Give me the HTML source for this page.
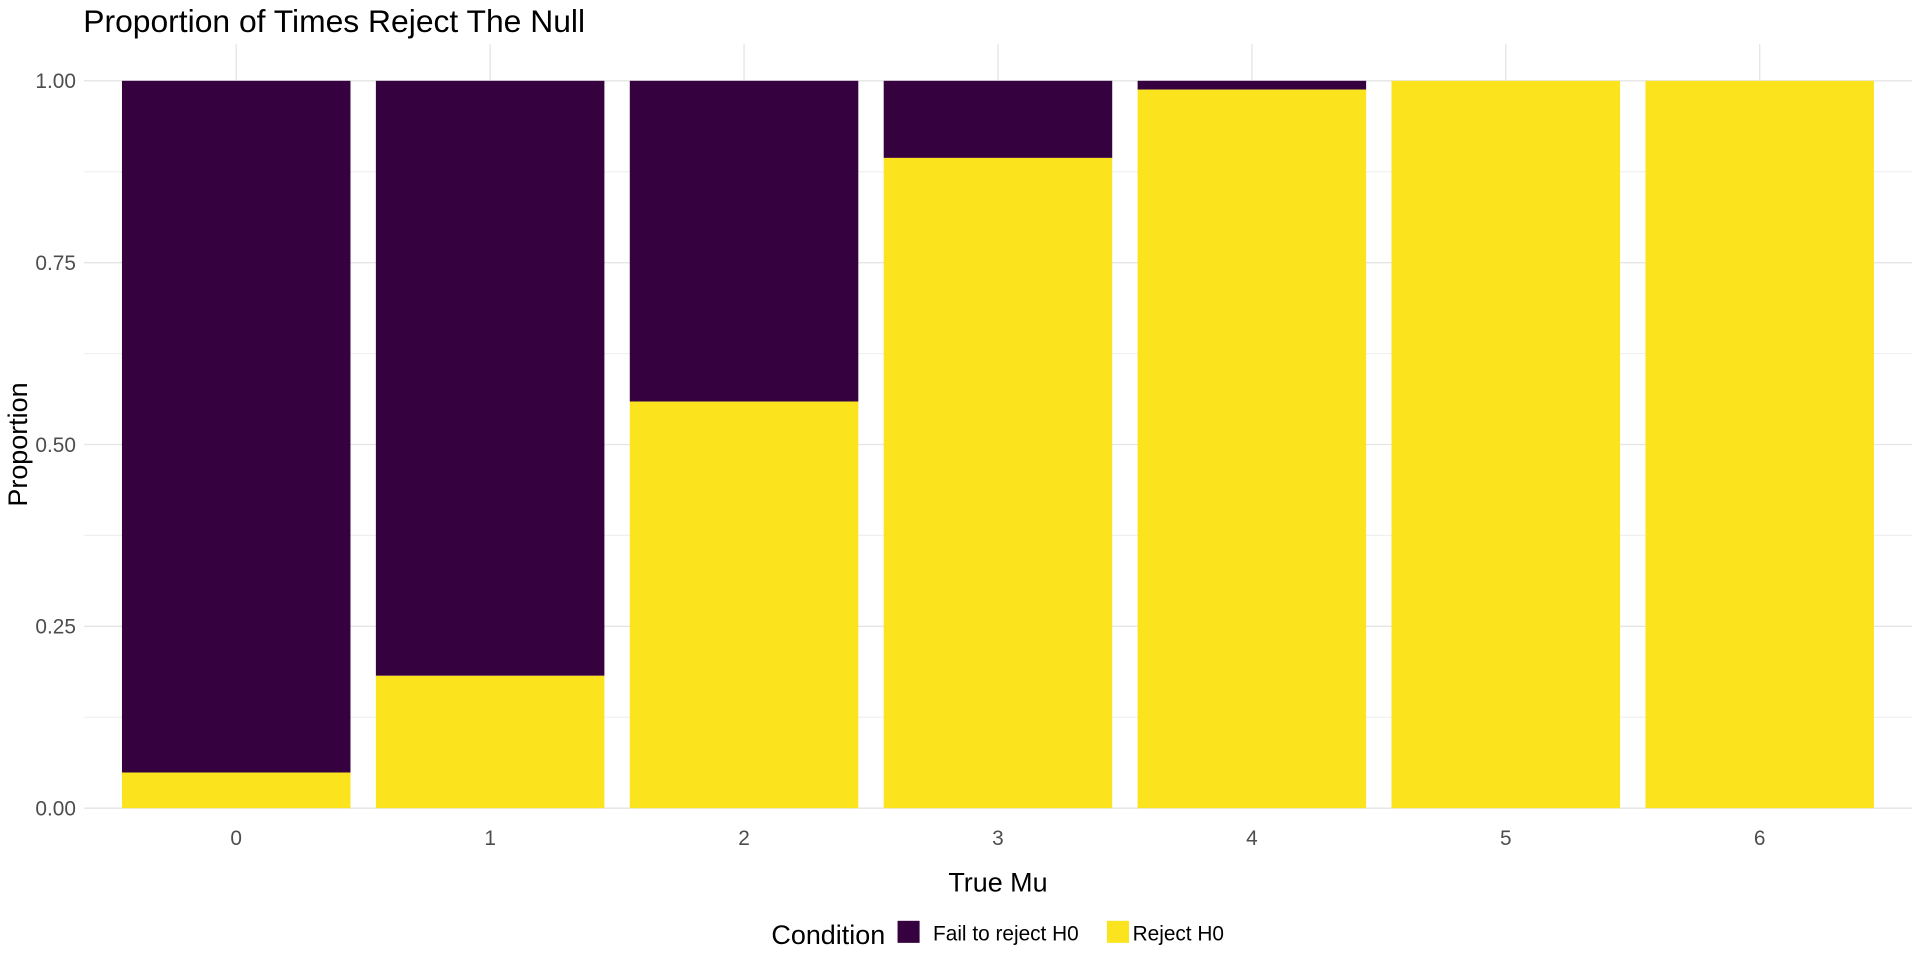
<!DOCTYPE html>
<html><head><meta charset="utf-8"><style>
body{margin:0;background:#fff;font-family:"Liberation Sans",sans-serif;overflow:hidden}
</style></head><body>
<svg id="chart" width="1920" height="960" viewBox="0 0 1568 784" xmlns="http://www.w3.org/2000/svg">
<text x="68" y="26" font-size="26" fill="#000">Proportion of Times Reject The Null</text>
<g id="grid"></g><g id="bars"></g><g id="axes"></g>
<text x="815" y="728" text-anchor="middle" font-size="22" fill="#000">True Mu</text>
<text transform="translate(22,363) rotate(-90)" text-anchor="middle" font-size="22" fill="#000">Proportion</text>
<g>
<text x="630" y="771" font-size="22" fill="#000">Condition</text>
<rect x="733" y="752" width="18" height="18" fill="#36013F"/>
<text x="762" y="768" font-size="17" fill="#000">Fail to reject H0</text>
<rect x="904" y="752" width="18" height="18" fill="#FBE41E"/>
<text x="925" y="768" font-size="17" fill="#000">Reject H0</text>
</g>
</svg>
<script>
const categories=["0","1","2","3","4","5","6"];
const rejectValues=[0.049,0.182,0.559,0.894,0.988,1.0,1.0];
const yTicks=[0,0.25,0.5,0.75,1.0];
const yTickLabels=["0.00","0.25","0.50","0.75","1.00"];
const NS="http://www.w3.org/2000/svg";
const L=68.5,R=1561.5,Y0=660,Y1=66;
const unit=(R-L)/(categories.length+0.2);
const xc=i=>L+(i+0.6)*unit;
const y=v=>Y0-(Y0-Y1)*v;
function mk(t,a,p){const e=document.createElementNS(NS,t);for(const k in a)e.setAttribute(k,a[k]);p.appendChild(e);return e;}
const grid=document.getElementById('grid'),bars=document.getElementById('bars'),axes=document.getElementById('axes');
for(let i=0;i<yTicks.length-1;i++){const v=(yTicks[i]+yTicks[i+1])/2;
const l=mk('line',{x1:L,x2:R,y1:y(v),y2:y(v),stroke:'#f0f0f0','stroke-width':1},grid);
}
yTicks.forEach((v,i)=>{const l=mk('line',{x1:L,x2:R,y1:y(v),y2:y(v),stroke:'#e5e5e5','stroke-width':1.1},grid);

const t=mk('text',{x:62,y:y(v)+6,'text-anchor':'end','font-size':17,fill:'#4d4d4d'},axes);t.textContent=yTickLabels[i];
});
categories.forEach((c,i)=>{const l=mk('line',{x1:xc(i),x2:xc(i),y1:Y1-30,y2:Y0,stroke:'#e5e5e5','stroke-width':1.1},grid);

const w=0.9*unit,x=xc(i)-w/2,r=rejectValues[i];
const f=mk('rect',{x:x,y:y(1),width:w,height:y(r)-y(1),fill:'#36013F'},bars);

const rj=mk('rect',{x:x,y:y(r),width:w,height:y(0)-y(r),fill:'#FBE41E'},bars);

const t=mk('text',{x:xc(i),y:Y0+30,'text-anchor':'middle','font-size':17,fill:'#4d4d4d'},axes);t.textContent=c;
});
</script>
</body></html>
